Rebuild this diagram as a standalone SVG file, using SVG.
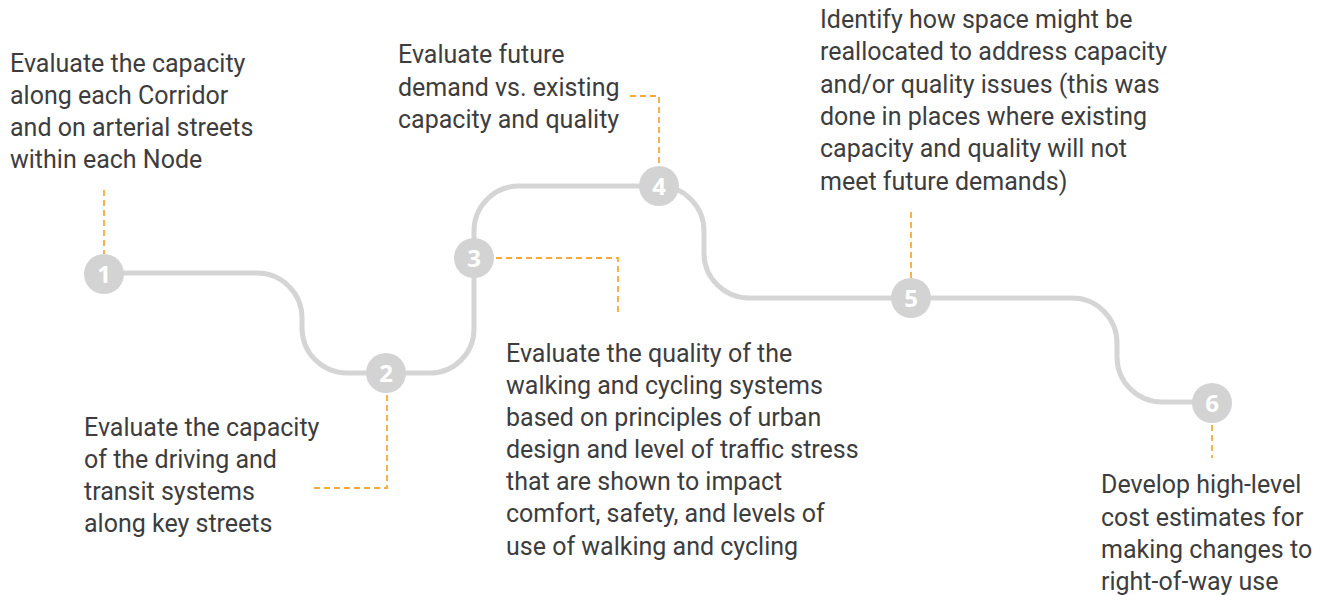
<svg xmlns="http://www.w3.org/2000/svg" width="1325" height="595" viewBox="0 0 1325 595">
  <style>
    .track { fill: none; stroke: #d5d5d5; stroke-width: 5; }
    .lead { fill: none; stroke: #f8a93c; stroke-width: 1.8; stroke-dasharray: 6 4; }
    .dot { fill: #d3d3d3; }
    .num { font-family: "Open Sans", "DejaVu Sans", sans-serif; font-weight: 700; font-size: 24px; fill: #ffffff; text-anchor: middle; }
    .label { font-family: Roboto, "Liberation Sans", sans-serif; font-size: 25px; fill: #3d3d3d; }
  </style>
  <rect width="1325" height="595" fill="#ffffff"/>

  <g id="connectors">
    <!-- winding route through the six steps -->
    <path class="track" d="M104,273 H257 A45,45 0 0 1 302,318 V328 A45,45 0 0 0 347,373 H430 A44,44 0 0 0 474,329 V231 A45,45 0 0 1 519,186 H659 A45,45 0 0 1 704,231 V253 A45,45 0 0 0 749,298 H1072 A45,45 0 0 1 1117,343 V357 A45,45 0 0 0 1162,402 H1212"/>
    <!-- dashed leaders from steps to their captions -->
    <path class="lead" d="M104,190 V254"/>
    <path class="lead" d="M387,395 V488 H311"/>
    <path class="lead" d="M496,258 H618 V312"/>
    <path class="lead" d="M630,96 H659 V166"/>
    <path class="lead" d="M911,212 V278"/>
    <path class="lead" d="M1212,425 V458"/>
  </g>

  <g id="step1">
    <circle class="dot" cx="104" cy="274" r="20"/>
    <text class="num" x="104" y="283">1</text>
    <text class="label" x="10" y="72">Evaluate the capacity</text>
    <text class="label" x="10" y="104">along each Corridor</text>
    <text class="label" x="10" y="136">and on arterial streets</text>
    <text class="label" x="10" y="168">within each Node</text>
  </g>

  <g id="step2">
    <circle class="dot" cx="386" cy="373" r="20"/>
    <text class="num" x="386" y="382">2</text>
    <text class="label" x="84" y="436">Evaluate the capacity</text>
    <text class="label" x="84" y="468">of the driving and</text>
    <text class="label" x="84" y="500">transit systems</text>
    <text class="label" x="84" y="532">along key streets</text>
  </g>

  <g id="step3">
    <circle class="dot" cx="474" cy="258" r="20"/>
    <text class="num" x="474" y="267">3</text>
    <text class="label" x="506" y="362">Evaluate the quality of the</text>
    <text class="label" x="506" y="394">walking and cycling systems</text>
    <text class="label" x="506" y="426">based on principles of urban</text>
    <text class="label" x="506" y="458">design and level of traffic stress</text>
    <text class="label" x="506" y="490">that are shown to impact</text>
    <text class="label" x="506" y="522">comfort, safety, and levels of</text>
    <text class="label" x="506" y="555">use of walking and cycling</text>
  </g>

  <g id="step4">
    <circle class="dot" cx="659" cy="186" r="20"/>
    <text class="num" x="659" y="195">4</text>
    <text class="label" x="398" y="63">Evaluate future</text>
    <text class="label" x="398" y="96">demand vs. existing</text>
    <text class="label" x="398" y="128">capacity and quality</text>
  </g>

  <g id="step5">
    <circle class="dot" cx="911" cy="298" r="20"/>
    <text class="num" x="911" y="307">5</text>
    <text class="label" x="820" y="28">Identify how space might be</text>
    <text class="label" x="820" y="60">reallocated to address capacity</text>
    <text class="label" x="820" y="93">and/or quality issues (this was</text>
    <text class="label" x="820" y="125">done in places where existing</text>
    <text class="label" x="820" y="157">capacity and quality will not</text>
    <text class="label" x="820" y="190">meet future demands)</text>
  </g>

  <g id="step6">
    <circle class="dot" cx="1212" cy="403" r="20"/>
    <text class="num" x="1212" y="412">6</text>
    <text class="label" x="1101" y="493">Develop high-level</text>
    <text class="label" x="1101" y="526">cost estimates for</text>
    <text class="label" x="1101" y="558">making changes to</text>
    <text class="label" x="1101" y="590">right-of-way use</text>
  </g>
</svg>
